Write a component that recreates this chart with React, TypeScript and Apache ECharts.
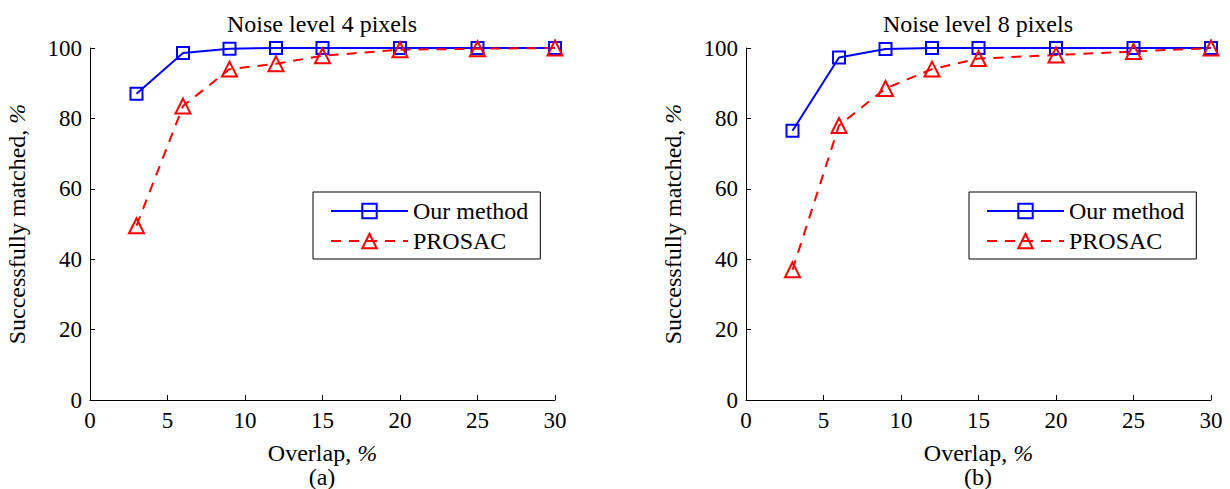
import React, { useEffect, useRef } from "react";
import * as echarts from "echarts";

const overlap = [3, 6, 9, 12, 15, 20, 25, 30];
const ourA = [87, 98.6, 99.8, 100, 100, 100, 100, 100];
const prosacA = [49.5, 83.5, 94, 95.5, 97.8, 99.5, 99.8, 100];
const ourB = [76.5, 97.3, 99.7, 100, 100, 100, 100, 100];
const prosacB = [37, 78, 88.5, 94, 97, 98, 99, 100];
const titles = ["Noise level 4 pixels", "Noise level 8 pixels"];
const captions = ["(a)", "(b)"];
const seriesNames = ["Our method", "PROSAC"];

const FONT = "Liberation Serif";

export default function App() {
  const ref = useRef<HTMLDivElement>(null);
  useEffect(() => {
    if (!ref.current) return;
    const chart = echarts.init(ref.current, null, { renderer: "svg" });
    const grids = [
      { left: 90, right: 675, top: 48, bottom: 89 },
      { left: 746, right: 19, top: 48, bottom: 89 },
    ];
    const centers = [322, 978];
    const pairs = (ys: number[]) => overlap.map((x, i) => [x, ys[i]]);
    const nameStyle = {
      fontFamily: FONT,
      fontSize: 24,
      color: "#000",
      rich: { i: { fontFamily: FONT, fontSize: 24, fontStyle: "italic", color: "#000" } },
    };
    const mkX = (gi: number) => ({
      type: "value",
      gridIndex: gi,
      min: 0,
      max: 30,
      interval: 5,
      name: "Overlap, {i|%}",
      nameLocation: "middle",
      nameGap: 41,
      nameTextStyle: nameStyle,
      axisLine: { show: true, lineStyle: { color: "#000", width: 1 } },
      axisTick: { show: true, inside: true, length: 5, lineStyle: { color: "#000" } },
      axisLabel: { fontFamily: FONT, fontSize: 23, color: "#000", margin: 9 },
      splitLine: { show: false },
    });
    const mkY = (gi: number) => ({
      type: "value",
      gridIndex: gi,
      min: 0,
      max: 100,
      interval: 20,
      name: "Successfully matched, {i|%}",
      nameLocation: "middle",
      nameGap: 61,
      nameTextStyle: nameStyle,
      axisLine: { show: true, lineStyle: { color: "#000", width: 1 } },
      axisTick: { show: true, inside: true, length: 5, lineStyle: { color: "#000" } },
      axisLabel: { fontFamily: FONT, fontSize: 23, color: "#000", margin: 8 },
      splitLine: { show: false },
    });
    const mkSeries = (gi: number, ours: number[], prosac: number[]) => [
      {
        type: "line",
        name: seriesNames[0],
        xAxisIndex: gi,
        yAxisIndex: gi,
        data: pairs(ours),
        symbol: "rect",
        symbolSize: 12,
        clip: false,
        lineStyle: { color: "#0000ff", width: 2 },
        itemStyle: { color: "rgba(0,0,0,0)", borderColor: "#0000ff", borderWidth: 2 },
      },
      {
        type: "line",
        name: seriesNames[1],
        xAxisIndex: gi,
        yAxisIndex: gi,
        data: pairs(prosac),
        symbol: "triangle",
        symbolSize: 15,
        clip: false,
        lineStyle: { color: "#ff0000", width: 2, type: [10, 8] },
        itemStyle: { color: "rgba(0,0,0,0)", borderColor: "#ff0000", borderWidth: 2 },
      },
    ];
    const mkLegend = (left: number) => ({
      left,
      top: 192,
      orient: "vertical",
      data: seriesNames,
      itemWidth: 77,
      itemHeight: 18,
      itemGap: 6,
      padding: [7, 12, 6, 17],
      borderColor: "#000",
      borderWidth: 1,
      backgroundColor: "#fff",
      selectedMode: false,
      textStyle: { fontFamily: FONT, fontSize: 24, color: "#000", lineHeight: 24 },
    });
    const option = {
      animation: false,
      backgroundColor: "#fff",
      title: [
        ...titles.map((t, i) => ({
          text: t,
          left: centers[i],
          textAlign: "center",
          top: 12,
          padding: 0,
          textStyle: { fontFamily: FONT, fontSize: 24, fontWeight: "normal", color: "#000" },
        })),
        ...captions.map((t, i) => ({
          text: t,
          left: centers[i],
          textAlign: "center",
          top: 466,
          padding: 0,
          textStyle: { fontFamily: FONT, fontSize: 24, lineHeight: 22, fontWeight: "normal", color: "#000" },
        })),
      ],
      grid: grids,
      xAxis: [mkX(0), mkX(1)],
      yAxis: [mkY(0), mkY(1)],
      legend: [mkLegend(313), mkLegend(969)],
      series: [...mkSeries(0, ourA, prosacA), ...mkSeries(1, ourB, prosacB)],
    };
    chart.setOption(option as any);
    return () => chart.dispose();
  }, []);
  return (
    <div
      ref={ref}
      style={{ position: "fixed", left: 0, top: 0, width: 1230, height: 489 }}
    />
  );
}
